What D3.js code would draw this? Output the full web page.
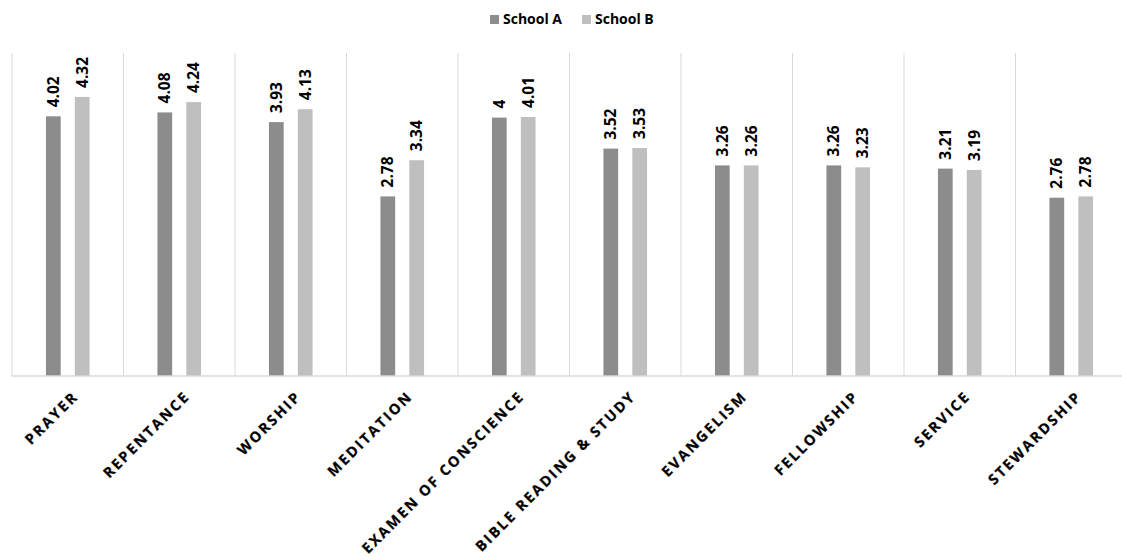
<!DOCTYPE html>
<html>
<head>
<meta charset="utf-8">
<script src="https://cdn.jsdelivr.net/npm/d3@7"></script>
<style>
  html, body { margin: 0; padding: 0; background: #ffffff; }
  svg { display: block; font-family: "Open Sans", "Liberation Sans", sans-serif; }
</style>
</head>
<body>
<svg id="chart" width="1122" height="560"></svg>
<script>
// Spiritual discipline means by school
const categories = ["PRAYER", "REPENTANCE", "WORSHIP", "MEDITATION", "EXAMEN OF CONSCIENCE",
  "BIBLE READING & STUDY", "EVANGELISM", "FELLOWSHIP", "SERVICE", "STEWARDSHIP"];
const seriesNames = ["School A", "School B"];
const schoolA = [4.02, 4.08, 3.93, 2.78, 4, 3.52, 3.26, 3.26, 3.21, 2.76];
const schoolB = [4.32, 4.24, 4.13, 3.34, 4.01, 3.53, 3.26, 3.23, 3.19, 2.78];
const colors = ["#8c8c8c", "#bfbfbf"];

const svg = d3.select("#chart");
const plot = { left: 12, right: 1127, top: 53, bottom: 376 };

const x0 = d3.scaleBand().domain(categories).range([plot.left, plot.right]).paddingInner(0).paddingOuter(0);
const bw = x0.bandwidth();
const x1 = d3.scaleBand().domain(seriesNames)
  .range([bw / 2 - 21.8, bw / 2 + 21.8]).paddingInner(0.49).paddingOuter(0);
const y = d3.scaleLinear().domain([0, 5]).range([plot.bottom, plot.top]);

const rows = categories.map((c, i) => ({
  category: c,
  values: [{ key: seriesNames[0], value: schoolA[i] }, { key: seriesNames[1], value: schoolB[i] }]
}));

// vertical separators between categories
const bounds = categories.map(c => x0(c)).concat([plot.right]);
svg.append("g").selectAll("line").data(bounds).join("line")
  .attr("x1", d => d).attr("x2", d => d)
  .attr("y1", plot.top).attr("y2", plot.bottom)
  .attr("stroke", "#d9d9d9").attr("stroke-width", 1);

// bars and value labels
const groups = svg.append("g").selectAll("g").data(rows).join("g")
  .attr("transform", d => `translate(${x0(d.category)},0)`);

groups.selectAll("rect").data(d => d.values).join("rect")
  .attr("x", d => x1(d.key))
  .attr("width", x1.bandwidth())
  .attr("y", d => y(d.value))
  .attr("height", d => y(0) - y(d.value))
  .attr("fill", (d, i) => colors[i]);

groups.selectAll("text").data(d => d.values).join("text")
  .attr("transform", d => `translate(${x1(d.key) + x1.bandwidth() / 2},${y(d.value) - 9}) rotate(-90)`)
  .attr("dy", "0.36em")
  .attr("text-anchor", "start")
  .attr("font-size", 15.5)
  .attr("font-weight", 700)
  .attr("fill", "#000")
  .text(d => String(d.value));

// category axis
const xAxis = d3.axisBottom(x0).tickSize(0).tickPadding(0);
const axisG = svg.append("g").attr("transform", `translate(0,${plot.bottom})`).call(xAxis);
axisG.select(".domain").attr("d", `M${plot.left},0H${plot.right}`)
  .attr("stroke", "#d9d9d9").attr("stroke-width", 1.5);
axisG.selectAll(".tick text")
  .attr("transform", "translate(4,14) rotate(-45)")
  .attr("text-anchor", "end")
  .attr("dy", "0.72em")
  .attr("y", 0)
  .attr("font-family", "\"Open Sans\", sans-serif")
  .attr("font-size", 14.5)
  .attr("font-weight", 700)
  .attr("letter-spacing", "2.1px")
  .attr("stroke", "#000")
  .attr("stroke-width", 0.25)
  .attr("fill", "#000");

// legend
const legend = svg.append("g").attr("transform", "translate(490,0)");
const legendX = [0, 92];
seriesNames.forEach((name, i) => {
  const g = legend.append("g").attr("transform", `translate(${legendX[i]},0)`);
  g.append("rect").attr("x", 0).attr("y", 15).attr("width", 9).attr("height", 9).attr("fill", colors[i]);
  g.append("text").attr("x", 13).attr("y", 24)
    .attr("font-size", 14).attr("font-weight", 700).attr("fill", "#000")
    .text(name);
});
</script>
</body>
</html>
